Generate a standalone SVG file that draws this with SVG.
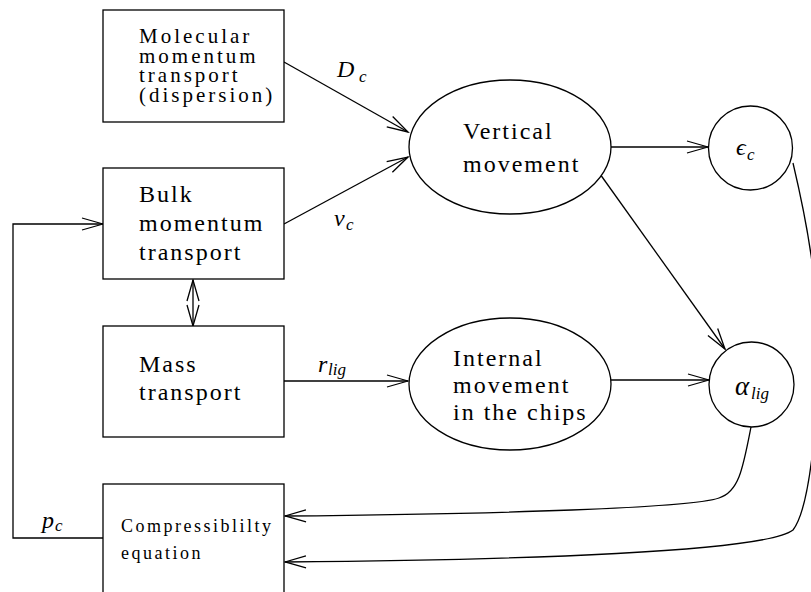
<svg xmlns="http://www.w3.org/2000/svg" width="811" height="592" viewBox="0 0 811 592">
<defs>
<marker id="ah" markerUnits="userSpaceOnUse" markerWidth="26" markerHeight="16" viewBox="-24 -8 26 16" refX="0" refY="0" orient="auto-start-reverse">
<path d="M-21,-6 L0,0 L-21,6" fill="none" stroke="#000" stroke-width="1.3"/>
</marker>
<style>
text{font-family:'Liberation Serif','DejaVu Serif',serif;fill:#000}
.t{font-size:24px;letter-spacing:2px}
.tm{font-size:21px;letter-spacing:3px}
.s{font-size:18px;letter-spacing:2.5px}
.m{font-style:italic;font-size:24px}
.sub{font-style:italic;font-size:17px}
.box{fill:#fff;stroke:#000;stroke-width:1.3}
.c{fill:none;stroke:#000;stroke-width:1.3;marker-end:url(#ah)}
</style>
</defs>
<rect width="811" height="592" fill="#fff"/>
<g id="connectors">
<path class="c" d="M284,62 L408,132"/>
<path class="c" d="M284,224 L408,157"/>
<path class="c" d="M193,280 L193,326" style="marker-start:url(#ah)"/>
<path class="c" d="M611,147 L708,147"/>
<path class="c" d="M600,174 L725,349"/>
<path class="c" d="M284,381 L408,381"/>
<path class="c" d="M611,380 L709,380"/>
<path class="c" d="M751,427 C743,468 739,492 719,498 C690,508 500,514 285,516"/>
<path class="c" d="M793,163 C810,235 818,290 818,350 C818,420 810,508 793,530 C765,552 520,560 285,562"/>
<path class="c" d="M103,538 L13,538 L13,224 L103,224"/>
</g>
<g id="molecular">
<rect class="box" x="103" y="10" width="181" height="112"/>
<text class="tm" x="139" y="43">Molecular</text>
<text class="tm" x="139" y="63">momentum</text>
<text class="tm" x="139" y="82">transport</text>
<text class="tm" x="139" y="102">(dispersion)</text>
</g>
<g id="bulk">
<rect class="box" x="103" y="168" width="181" height="111"/>
<text class="t" x="139" y="202">Bulk</text>
<text class="t" x="139" y="231">momentum</text>
<text class="t" x="139" y="260">transport</text>
</g>
<g id="mass">
<rect class="box" x="103" y="326" width="181" height="111"/>
<text class="t" x="139" y="372">Mass</text>
<text class="t" x="139" y="400">transport</text>
</g>
<g id="compress">
<rect class="box" x="103" y="484" width="181" height="112"/>
<text class="s" x="121" y="532">Compressiblilty</text>
<text class="s" x="121" y="559">equation</text>
</g>
<g id="vertical">
<ellipse class="box" cx="510" cy="147" rx="101" ry="67"/>
<text class="t" x="463" y="139">Vertical</text>
<text class="t" x="463" y="172">movement</text>
</g>
<g id="internal">
<ellipse class="box" cx="510" cy="384" rx="101" ry="66"/>
<text class="t" x="453" y="366">Internal</text>
<text class="t" x="453" y="393">movement</text>
<text class="t" x="453" y="420">in the chips</text>
</g>
<g id="epsilon">
<circle class="box" cx="750.5" cy="148" r="42"/>
<text class="m" x="736" y="155">ϵ</text><text class="sub" x="747" y="160">c</text>
</g>
<g id="alpha">
<circle class="box" cx="751.5" cy="384.5" r="42.5"/>
<text class="m" x="735" y="395" style="font-size:27px">α</text><text class="sub" x="751" y="399">lig</text>
</g>
<g id="labels">
<text class="m" x="337" y="77">D</text><text class="sub" x="359" y="82">c</text>
<text class="m" x="334" y="226">v</text><text class="sub" x="346" y="230">c</text>
<text class="m" x="318" y="372">r</text><text class="sub" x="328" y="375">lig</text>
<text class="m" x="42" y="528">p</text><text class="sub" x="55" y="531">c</text>
</g>
</svg>
